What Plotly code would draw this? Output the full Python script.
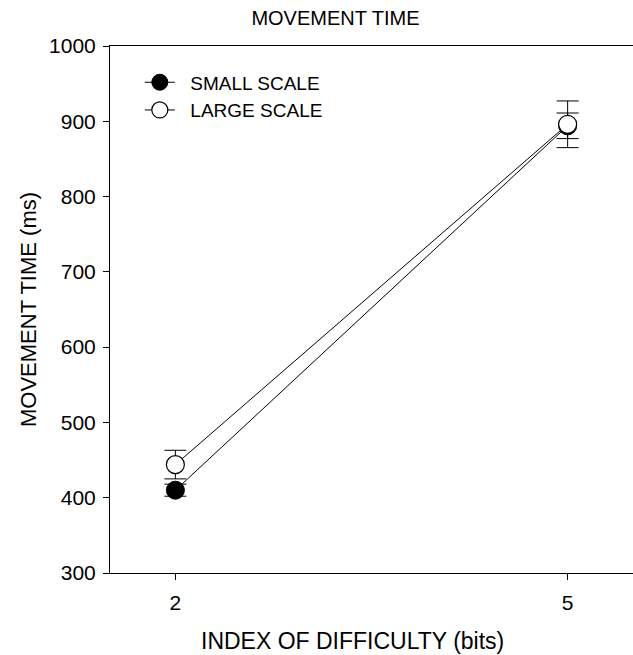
import plotly.graph_objects as go

ids = [2, 5]
small_mt = [410, 894]
small_err = [8, 17]
large_mt = [444, 896]
large_err = [19, 31]
y_ticks = [300, 400, 500, 600, 700, 800, 900, 1000]

fig = go.Figure()
fig.add_trace(go.Scatter(
    x=ids, y=small_mt, name="\u00a0\u00a0SMALL SCALE", mode="lines+markers",
    line=dict(color="black", width=1),
    marker=dict(symbol="circle", size=18, color="black", line=dict(color="black", width=1)),
    error_y=dict(type="data", array=small_err, color="black", thickness=1, width=11),
    legendgroup="a",
))
fig.add_trace(go.Scatter(
    x=ids, y=large_mt, name="\u00a0\u00a0LARGE SCALE", mode="lines+markers",
    line=dict(color="black", width=1),
    marker=dict(symbol="circle", size=18, color="white", line=dict(color="black", width=1.2)),
    error_y=dict(type="data", array=large_err, color="black", thickness=1, width=11),
    legendgroup="b",
))

font = "Liberation Sans, Arial, sans-serif"
fig.update_layout(
    width=633, height=655,
    margin=dict(l=110, r=0, t=46, b=82),
    paper_bgcolor="white", plot_bgcolor="white",
    font=dict(family=font, size=20, color="black"),
    title=dict(text="MOVEMENT TIME", x=0.530, xanchor="center", y=0.972, yanchor="middle",
               font=dict(size=20)),
    showlegend=True,
    legend=dict(x=0.057, y=0.967, xanchor="left", yanchor="top", bgcolor="rgba(0,0,0,0)",
                font=dict(size=19), tracegroupgap=0, traceorder="grouped"),
    xaxis=dict(range=[1.5, 5.5], tickvals=ids, ticktext=[str(v) for v in ids],
               showline=True, linecolor="black", linewidth=1, mirror=True,
               ticks="outside", ticklen=6, tickcolor="black", showgrid=False, zeroline=False,
               ticklabelstandoff=5,
               tickfont=dict(size=21)),
    yaxis=dict(range=[300, 1000], tickvals=y_ticks,
               showline=True, linecolor="black", linewidth=1,
               ticks="outside", ticklen=6, tickcolor="black", showgrid=False, zeroline=False,
               ticklabelstandoff=3,
               title=dict(text="MOVEMENT TIME (ms)", font=dict(size=22), standoff=6),
               tickfont=dict(size=21)),
    annotations=[dict(text="INDEX OF DIFFICULTY (bits)", xref="paper", yref="paper",
                      x=(352 - 110) / 523, y=-(641 - 573) / 527, xanchor="center", yanchor="middle",
                      showarrow=False, font=dict(size=23))],
)

fig.write_html("out.html")
